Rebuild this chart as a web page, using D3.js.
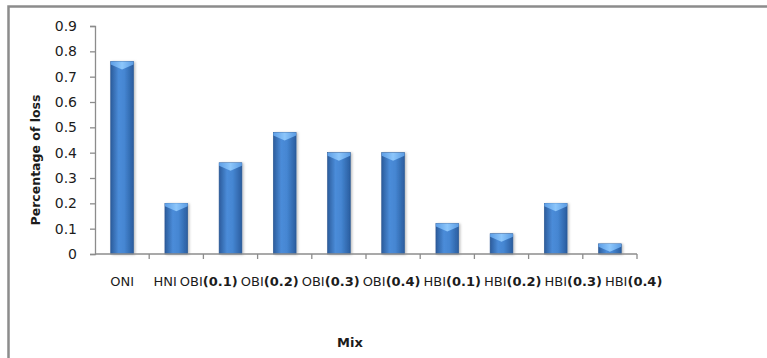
<!DOCTYPE html>
<html>
<head>
<meta charset="utf-8">
<script src="https://cdn.jsdelivr.net/npm/d3@7/dist/d3.min.js"></script>
<style>
  html, body { margin: 0; padding: 0; background: #fff; }
  svg { display: block; }
  text { font-family: "DejaVu Sans", sans-serif; fill: #1c1c1c; }
</style>
</head>
<body>
<svg id="chart" width="767" height="358"></svg>
<script>
// Mix names: plain prefix and bold proportion suffix
const mixNames   = ["ONI", "HNI", "OBI", "OBI", "OBI", "OBI", "HBI", "HBI", "HBI", "HBI"];
const mixRatios  = ["", "", "(0.1)", "(0.2)", "(0.3)", "(0.4)", "(0.1)", "(0.2)", "(0.3)", "(0.4)"];
const lossValues = [0.76, 0.20, 0.36, 0.48, 0.40, 0.40, 0.12, 0.08, 0.20, 0.04];
const yTicks     = [0, 0.1, 0.2, 0.3, 0.4, 0.5, 0.6, 0.7, 0.8, 0.9];

const svg = d3.select("#chart");
const keys = mixNames.map((d, i) => i);

// outer frame
svg.append("rect")
  .attr("x", 8.5).attr("y", 6.5).attr("width", 820).attr("height", 420)
  .attr("fill", "none").attr("stroke", "#8c8c8c").attr("stroke-width", 2.5);

const plotLeft = 95, plotRight = 637, plotTop = 26, plotBottom = 254;

const x = d3.scaleBand().domain(keys).range([plotLeft, plotRight])
  .paddingInner(0.58).paddingOuter(0.29);
const y = d3.scaleLinear().domain([0, 0.9]).range([plotBottom, plotTop]);

// gradients
const defs = svg.append("defs");
const body = defs.append("linearGradient").attr("id", "barBody")
  .attr("x1", "0").attr("x2", "1").attr("y1", "0").attr("y2", "0");
body.append("stop").attr("offset", "0%").attr("stop-color", "#2b5c9c");
body.append("stop").attr("offset", "35%").attr("stop-color", "#4b8cd9");
body.append("stop").attr("offset", "60%").attr("stop-color", "#4586d2");
body.append("stop").attr("offset", "100%").attr("stop-color", "#2a5d9f");
const cap = defs.append("linearGradient").attr("id", "barCap")
  .attr("x1", "0").attr("x2", "1").attr("y1", "0").attr("y2", "0");
cap.append("stop").attr("offset", "0%").attr("stop-color", "#5d9ee6");
cap.append("stop").attr("offset", "50%").attr("stop-color", "#8cc6fb");
cap.append("stop").attr("offset", "100%").attr("stop-color", "#5a9be3");
const shadow = defs.append("filter").attr("id", "soft")
  .attr("x", "-30%").attr("y", "-10%").attr("width", "160%").attr("height", "130%");
shadow.append("feDropShadow").attr("dx", 1.5).attr("dy", 0.5)
  .attr("stdDeviation", 1.2).attr("flood-color", "#000").attr("flood-opacity", 0.25);

// bars
const bars = svg.append("g").selectAll("g").data(keys).join("g");
bars.append("rect")
  .attr("x", i => x(i)).attr("y", i => y(lossValues[i]))
  .attr("width", x.bandwidth()).attr("height", i => y(0) - y(lossValues[i]))
  .attr("fill", "url(#barBody)").attr("stroke", "#2a5690").attr("stroke-width", 0.6)
  .attr("filter", "url(#soft)");
bars.append("path")
  .attr("d", i => {
    const x0 = x(i), x1 = x(i) + x.bandwidth(), xc = (x0 + x1) / 2, t = y(lossValues[i]);
    return `M${x0},${t}L${x1},${t}L${x1},${t + 3}L${xc},${t + 8}L${x0},${t + 3}Z`;
  })
  .attr("fill", "url(#barCap)");

// y axis
const yAxis = svg.append("g").attr("transform", `translate(${plotLeft},0)`)
  .call(d3.axisLeft(y).tickValues(yTicks).tickSize(5).tickPadding(13).tickFormat(d3.format("")));
yAxis.select(".domain").attr("stroke", "#8c8c8c").attr("stroke-width", 1.3);
yAxis.selectAll(".tick line").attr("stroke", "#8c8c8c").attr("stroke-width", 1.3);
yAxis.selectAll(".tick text").attr("font-size", 14).attr("fill", "#1c1c1c")
  .attr("font-family", "DejaVu Sans, sans-serif");

// x axis line with band-boundary ticks
svg.append("line").attr("x1", plotLeft).attr("x2", plotRight).attr("y1", plotBottom).attr("y2", plotBottom)
  .attr("stroke", "#8c8c8c").attr("stroke-width", 1.3);
svg.append("g").selectAll("line").data(keys).join("line")
  .attr("x1", i => plotLeft + (i + 1) * x.step()).attr("x2", i => plotLeft + (i + 1) * x.step())
  .attr("y1", plotBottom).attr("y2", plotBottom + 5)
  .attr("stroke", "#8c8c8c").attr("stroke-width", 1.3);

// category labels: start at band centres, then push overlapping neighbours apart
const labels = svg.append("g").selectAll("text").data(keys).join("text")
  .attr("y", 286).attr("font-size", 13).attr("text-anchor", "middle");
labels.append("tspan").text(i => mixNames[i]);
labels.append("tspan").attr("font-weight", "bold").text(i => mixRatios[i]);
const widths = [];
labels.each(function () { widths.push(this.getComputedTextLength()); });
const centres = keys.map(i => x(i) + x.bandwidth() / 2);
const gap = 3;
for (let it = 0; it < 400; it++) {
  for (let i = 0; i < centres.length - 1; i++) {
    const need = (widths[i] + widths[i + 1]) / 2 + gap;
    const have = centres[i + 1] - centres[i];
    if (have < need) {
      const d = (need - have) / 2;
      centres[i] -= d;
      centres[i + 1] += d;
    }
  }
}
labels.attr("x", i => centres[i]);

// axis titles
svg.append("text")
  .attr("transform", `translate(40,${(plotTop + plotBottom) / 2 + 20}) rotate(-90)`)
  .attr("text-anchor", "middle").attr("font-size", 12.5).attr("font-weight", "bold")
  .text("Percentage of loss");
svg.append("text")
  .attr("x", 350).attr("y", 347).attr("text-anchor", "middle")
  .attr("font-size", 13).attr("font-weight", "bold").text("Mix");
</script>
</body>
</html>
